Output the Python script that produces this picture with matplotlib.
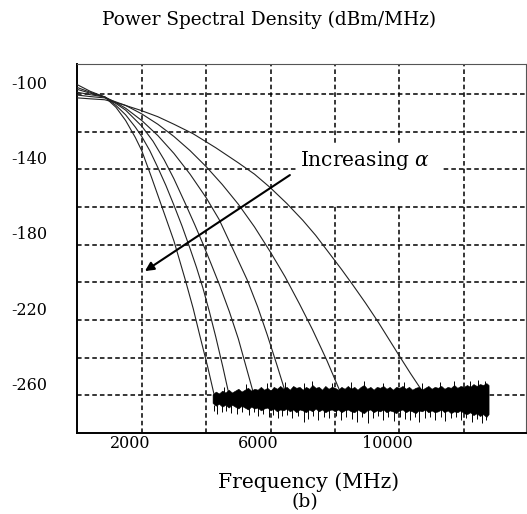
import numpy as np
import matplotlib
matplotlib.use("Agg")
import matplotlib.pyplot as plt
from matplotlib.patches import Rectangle

plt.rcParams['font.family'] = ['DejaVu Serif']
plt.rcParams['mathtext.fontset'] = 'dejavuserif'

# ---- data: frequency (MHz), PSD (dBm/MHz) ----
c1_f = [0, 400, 850, 1200, 1500, 1800, 2000, 2300, 2630, 3000, 3350, 3600, 3800, 4050, 4280]
c1_p = [-95, -98.5, -101.5, -107, -114, -123, -130, -144, -160, -178, -198.5, -214, -228, -245, -262]
c2_f = [0, 400, 850, 1200, 1500, 1800, 2000, 2250, 2500, 2750, 3000, 3250, 3500, 3700, 3900,
        4100, 4300, 4520, 4740]
c2_p = [-96.5, -99, -101.5, -106, -111, -117.5, -122.5, -130, -139, -148.5, -159, -170, -182,
        -192, -203, -215.5, -229, -245, -262]
c3_f = [0, 400, 850, 1200, 1500, 2000, 2350, 2700, 3000, 3350, 3650, 3900, 4150, 4430, 4720,
        5000, 5260, 5520]
c3_p = [-97.5, -99.5, -101.5, -105, -108.5, -117, -125, -135, -145, -158, -169.5, -179.5,
        -190, -202, -215.5, -230, -246, -262]
c4_f = [0, 400, 850, 1200, 1500, 2000, 2500, 3000, 3500, 4000, 4400, 4850, 5270, 5600, 5900,
        6200, 6500]
c4_p = [-99, -100.3, -101.5, -104.5, -107.5, -114, -122, -131.5, -142.5, -155, -166.5, -183,
        -198.5, -213, -228, -244, -260.5]
c5_f = [0, 400, 850, 1500, 2000, 2500, 3000, 3500, 4000, 4500, 5000, 5500, 6000, 6450, 6900,
        7300, 7750, 8160]
c5_p = [-100.5, -101.3, -102, -106, -110.5, -116, -122.5, -130, -138.5, -148, -158.5, -170.5,
        -184, -197, -211.5, -225, -241.5, -258]
c6_f = [0, 400, 850, 1400, 1950, 2500, 3000, 3590, 4300, 5000, 5500, 5980, 6500, 7000, 7400,
        7800, 8200, 8560, 8950, 9340, 9650, 9960, 10350, 10700]
c6_p = [-102, -102.5, -103, -105.5, -108.5, -112, -116, -121, -128.5, -136.5, -142.5, -149.5,
        -158, -167, -175, -184, -193, -201.5, -211, -221, -229.5, -238, -248.5, -257.5]
curves = [(c1_f, c1_p), (c2_f, c2_p), (c3_f, c3_p), (c4_f, c4_p), (c5_f, c5_p), (c6_f, c6_p)]

# noise floor envelope, every 100 MHz
noise_f = list(range(4200, 12800, 100)) + [12770]
noise_hi = [-259.5, -258, -259, -257.5, -258.5, -257, -258.5, -257.5, -256.5, -258,
            -257, -256, -257.5, -256.5, -257, -255.5, -257, -256, -257.5, -255.5,
            -256.5, -255, -256.5, -255.5, -257, -255, -256, -255.5, -257, -255.5,
            -256.5, -254.5, -256, -255.5, -257, -255, -256.5, -255.5, -256, -257,
            -255.5, -256.5, -255, -256.5, -255.5, -257, -255.5, -254.5, -256.5, -255.5,
            -257, -255.5, -256, -255, -256.5, -255.5, -257, -255.5, -256, -255,
            -256.5, -255.5, -257, -256, -255.5, -257, -256, -255, -256.5, -255.5,
            -256, -255, -256.5, -255.5, -256, -254.5, -256, -255, -255.5, -254.5,
            -255.5, -254, -255, -254, -254.5, -253.5, -254.5]
noise_lo = [-264, -265.5, -264.5, -266, -265, -266.5, -265, -266, -267, -265.5,
            -266.5, -267.5, -266, -267, -266.5, -268, -267, -266.5, -268, -267,
            -268.5, -267.5, -268, -267, -268.5, -267.5, -269, -267.5, -268, -269,
            -267.5, -268.5, -267, -268.5, -267.5, -269, -268, -267.5, -268.5, -267.5,
            -269, -268, -267.5, -268.5, -269, -267.5, -268.5, -269.5, -268, -267.5,
            -269, -268, -268.5, -267.5, -269, -268, -268.5, -269.5, -268, -267.5,
            -269, -268, -268.5, -269.5, -268, -268.5, -267.5, -269, -268, -269,
            -268.5, -267.5, -269, -268, -269.5, -268.5, -269, -268, -269.5, -270,
            -269, -270.5, -269.5, -271, -270, -271.5, -270]
spike_dn_f = [4250, 4350, 4480, 4620, 4780, 4950, 5120, 5330, 5480, 5620, 5780, 5950, 6080,
              6230, 6370, 6520, 6680, 6850, 7030, 7170, 7320, 7480, 7650, 7830, 8020, 8180,
              8350, 8520, 8680, 8840, 9020, 9180, 9350, 9480, 9650, 9830, 10010, 10180,
              10330, 10480, 10620, 10790, 10950, 11120, 11280, 11430, 11600, 11760, 11920,
              12080, 12250, 12400, 12560, 12690]
spike_dn_p = [-268.5, -270, -269, -268.5, -269.5, -270, -269, -270.5, -269, -271, -270,
              -271.5, -270.5, -272, -271, -270.5, -272, -271, -274, -272.5, -271, -273,
              -271.5, -272, -271, -273, -271.5, -272.5, -274, -271.5, -274.5, -272, -271,
              -273, -271.5, -273.5, -271.5, -272.5, -273, -271.5, -274, -272, -271.5, -273,
              -271.5, -273.5, -272, -271.5, -273, -272, -274, -272.5, -274.5, -273]
spike_up_f = [4550, 5250, 5900, 6450, 7050, 7300, 7900, 8500, 8900, 9500, 10150, 10700,
              11250, 11700, 12200, 12450, 12650]
spike_up_p = [-255.5, -254, -253.5, -253, -253.5, -252.5, -253.5, -253, -252.5, -253.5,
              -253, -253.5, -253, -252.5, -252.5, -252, -252.5]

x_grid = [2000, 4000, 6000, 8000, 10000, 12000]
x_labels = {2000: "2000", 6000: "6000", 10000: "10000"}
y_grid = [-100, -120, -140, -160, -180, -200, -220, -240, -260]
y_labels = {-100: "-100", -140: "-140", -180: "-180", -220: "-220", -260: "-260"}

# ---- figure ----
fig = plt.figure(figsize=(5.27, 5.14), dpi=100)
ax = fig.add_axes([0.1467, 0.1576, 0.998 - 0.1467, 0.8755 - 0.1576])
ax.set_xlim(0, 13930)
ax.set_ylim(-280, -84)

ax.set_xticks(x_grid)
ax.set_yticks(y_grid)
ax.set_xticklabels([])
ax.set_yticklabels([])
ax.tick_params(length=0)
ax.grid(True, color='black', linestyle=(0, (3, 2)), linewidth=1.1, zorder=1)
ax.set_axisbelow(True)

for s in ['left', 'bottom']:
    ax.spines[s].set_linewidth(1.4)
for s in ['top', 'right']:
    ax.spines[s].set_linewidth(0.8)
    ax.spines[s].set_color('#555555')

for v, t in y_labels.items():
    ax.annotate(t, xy=(0, v), xycoords=ax.get_yaxis_transform(),
                xytext=(-30, 10), textcoords='offset pixels',
                ha='right', va='center', fontsize=11.5)
for v, t in x_labels.items():
    ax.annotate(t, xy=(v, 0), xycoords=ax.get_xaxis_transform(),
                xytext=(-12, -11), textcoords='offset pixels',
                ha='center', va='center', fontsize=11.5)

# white background behind the annotation text
ax.add_patch(Rectangle((6850, -158.8), 4470, 31.8, facecolor='white',
                       edgecolor='none', zorder=1.5))

for f, p in curves:
    ax.plot(f, p, color='#222222', linewidth=0.8, zorder=3)

ax.fill_between(noise_f, noise_lo, noise_hi, color='black', linewidth=0.4, zorder=3)
ax.vlines(spike_dn_f, -265, spike_dn_p, color='black', linewidth=0.7, zorder=3)
ax.vlines(spike_up_f, spike_up_p, -258, color='black', linewidth=0.7, zorder=3)

ax.text(6920, -135, r"Increasing $\alpha$", fontsize=14.5, ha='left', va='center', zorder=4)
ax.annotate('', xy=(2100, -194), xytext=(6600, -143),
            arrowprops=dict(arrowstyle='-|>', lw=1.5, color='black', mutation_scale=13,
                            shrinkA=0, shrinkB=0), zorder=4)

fig.text(269 / 527, 1 - 20 / 514, "Power Spectral Density (dBm/MHz)", ha='center',
         va='center', fontsize=13.3)
fig.text(309 / 527, 1 - 482 / 514, "Frequency (MHz)", ha='center', va='center', fontsize=14.6)
fig.text(305 / 527, 1 - 502 / 514, "(b)", ha='center', va='center', fontsize=13.5)

fig.savefig("out.png", dpi=100)
